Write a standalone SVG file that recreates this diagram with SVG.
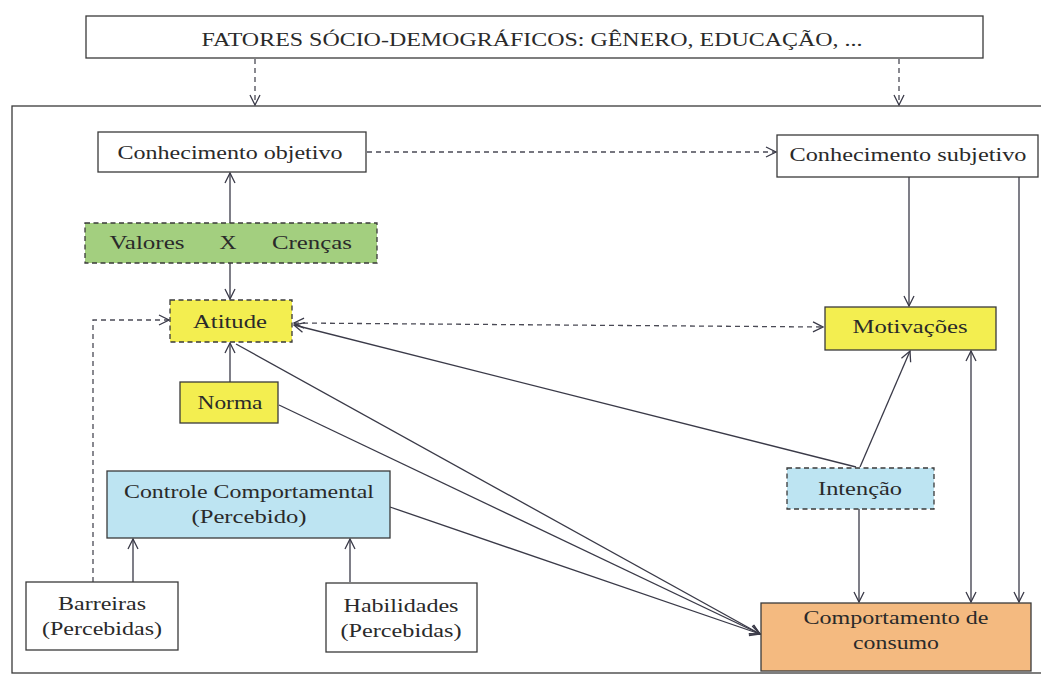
<svg xmlns="http://www.w3.org/2000/svg" width="1041" height="678" viewBox="0 0 1041 678">
<defs>
<style>
text{font-family:"Liberation Serif","DejaVu Serif",serif;font-size:18px;fill:#2a2a2a;text-anchor:middle;}
.box{stroke:#3a3a3a;stroke-width:1.3;}
.dash{stroke-dasharray:5,3.5;}
.white{fill:#ffffff;}
.green{fill:#a3cf7f;}
.yellow{fill:#f3ee50;}
.blue{fill:#bde4f2;}
.orange{fill:#f4ba80;}
.c{fill:none;stroke:#3a3a48;stroke-width:1.3;}
.cd{fill:none;stroke:#4a4a55;stroke-width:1.3;stroke-dasharray:5,4;}
</style>
<marker id="ah" viewBox="0 0 12 12" refX="11" refY="6" markerWidth="12" markerHeight="12" markerUnits="userSpaceOnUse" orient="auto-start-reverse">
<path d="M1,1 L11,6 L1,11" fill="none" stroke="#3a3a48" stroke-width="1.3"/>
</marker>
</defs>
<rect width="1041" height="678" fill="#ffffff"/>

<g id="frame">
<rect x="12" y="106" width="1040" height="567" fill="none" stroke="#3a3a3a" stroke-width="1.3"/>
</g>

<g id="connectors">
<line class="cd" x1="255" y1="59" x2="255" y2="105" marker-end="url(#ah)"/>
<line class="cd" x1="899" y1="59" x2="899" y2="105" marker-end="url(#ah)"/>
<line class="cd" x1="367" y1="152" x2="776" y2="152" marker-end="url(#ah)"/>
<line class="c" x1="230" y1="223" x2="230" y2="173" marker-end="url(#ah)"/>
<line class="c" x1="230" y1="263" x2="230" y2="299" marker-end="url(#ah)"/>
<polyline class="cd" points="93,582 93,320 169,320" marker-end="url(#ah)"/>
<line class="cd" x1="294" y1="323" x2="823" y2="327" marker-start="url(#ah)" marker-end="url(#ah)"/>
<line class="c" x1="909" y1="177" x2="909" y2="306" marker-end="url(#ah)"/>
<line class="c" x1="1019" y1="177" x2="1019" y2="602" marker-end="url(#ah)"/>
<line class="c" x1="860" y1="467" x2="910" y2="351" marker-end="url(#ah)"/>
<line class="c" x1="971" y1="351" x2="971" y2="602" marker-start="url(#ah)" marker-end="url(#ah)"/>
<line class="c" x1="859" y1="509" x2="859" y2="602" marker-end="url(#ah)"/>
<line class="c" x1="856" y1="467" x2="294" y2="325" marker-end="url(#ah)"/>
<line class="c" x1="230" y1="382" x2="230" y2="343" marker-end="url(#ah)"/>
<line class="c" x1="236" y1="344" x2="760" y2="634" marker-end="url(#ah)"/>
<line class="c" x1="279" y1="405" x2="760" y2="634" marker-end="url(#ah)"/>
<line class="c" x1="390" y1="507" x2="760" y2="634" marker-end="url(#ah)"/>
<line class="c" x1="133" y1="582" x2="133" y2="539" marker-end="url(#ah)"/>
<line class="c" x1="350" y1="582" x2="350" y2="539" marker-end="url(#ah)"/>
</g>

<g id="fatores">
<rect class="box white" x="86" y="16" width="897" height="42"/>
<text x="532" y="46" style="font-size:19px" textLength="661" lengthAdjust="spacingAndGlyphs">FATORES SÓCIO-DEMOGRÁFICOS: GÊNERO, EDUCAÇÃO, ...</text>
</g>

<g id="conhecimento-objetivo">
<rect class="box white" x="98" y="132" width="268" height="40"/>
<text x="230" y="159" textLength="225" lengthAdjust="spacingAndGlyphs">Conhecimento objetivo</text>
</g>

<g id="conhecimento-subjetivo">
<rect class="box white" x="777" y="135" width="261" height="42"/>
<text x="908" y="161" textLength="237" lengthAdjust="spacingAndGlyphs">Conhecimento subjetivo</text>
</g>

<g id="valores-crencas">
<rect class="box green dash" x="85" y="223" width="292" height="40"/>
<text x="147" y="249" textLength="75" lengthAdjust="spacingAndGlyphs">Valores</text>
<text x="228" y="249" textLength="17" lengthAdjust="spacingAndGlyphs">X</text>
<text x="312" y="249" textLength="80" lengthAdjust="spacingAndGlyphs">Crenças</text>
</g>

<g id="atitude">
<rect class="box yellow dash" x="170" y="300" width="122" height="42"/>
<text x="230" y="328" textLength="74" lengthAdjust="spacingAndGlyphs">Atitude</text>
</g>

<g id="motivacoes">
<rect class="box yellow" x="825" y="307" width="171" height="43"/>
<text x="910" y="333" textLength="115" lengthAdjust="spacingAndGlyphs">Motivações</text>
</g>

<g id="norma">
<rect class="box yellow" x="180" y="382" width="98" height="41"/>
<text x="230" y="409" textLength="65" lengthAdjust="spacingAndGlyphs">Norma</text>
</g>

<g id="controle">
<rect class="box blue" x="107" y="471" width="283" height="67"/>
<text x="249" y="498" textLength="250" lengthAdjust="spacingAndGlyphs">Controle Comportamental</text>
<text x="249" y="523" textLength="115" lengthAdjust="spacingAndGlyphs">(Percebido)</text>
</g>

<g id="intencao">
<rect class="box blue dash" x="787" y="468" width="147" height="41"/>
<text x="860" y="495" textLength="84" lengthAdjust="spacingAndGlyphs">Intenção</text>
</g>

<g id="barreiras">
<rect class="box white" x="26" y="582" width="152" height="68"/>
<text x="102" y="610" textLength="88" lengthAdjust="spacingAndGlyphs">Barreiras</text>
<text x="102" y="635" textLength="120" lengthAdjust="spacingAndGlyphs">(Percebidas)</text>
</g>

<g id="habilidades">
<rect class="box white" x="326" y="583" width="151" height="69"/>
<text x="401" y="612" textLength="115" lengthAdjust="spacingAndGlyphs">Habilidades</text>
<text x="401" y="637" textLength="121" lengthAdjust="spacingAndGlyphs">(Percebidas)</text>
</g>

<g id="comportamento">
<rect class="box orange" x="761" y="603" width="270" height="68"/>
<text x="896" y="624" textLength="185" lengthAdjust="spacingAndGlyphs">Comportamento de</text>
<text x="896" y="649" textLength="86" lengthAdjust="spacingAndGlyphs">consumo</text>
</g>
</svg>
